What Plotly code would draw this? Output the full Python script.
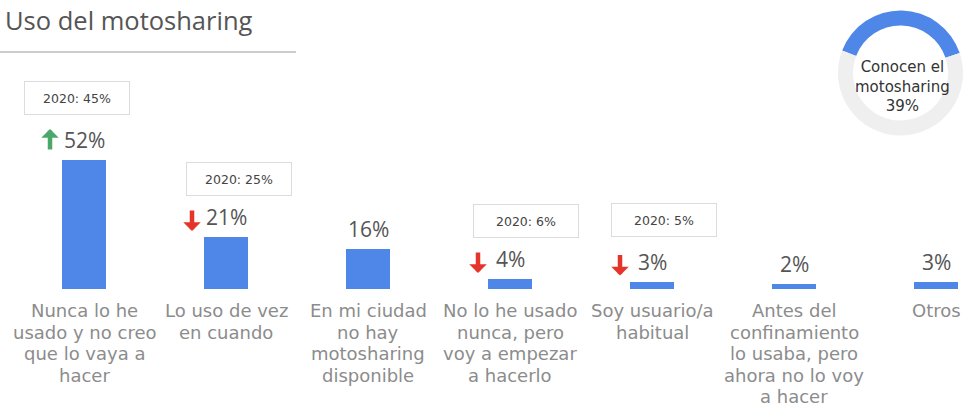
import plotly.graph_objects as go

# ---- data -------------------------------------------------------------
categories = [
    "Nunca lo he<br>usado y no creo<br>que lo vaya a<br>hacer",
    "Lo uso de vez<br>en cuando",
    "En mi ciudad<br>no hay<br>motosharing<br>disponible",
    "No lo he usado<br>nunca, pero<br>voy a empezar<br>a hacerlo",
    "Soy usuario/a<br>habitual",
    "Antes del<br>confinamiento<br>lo usaba, pero<br>ahora no lo voy<br>a hacer",
    "Otros",
]
values_2021 = [52, 21, 16, 4, 3, 2, 3]
values_2020 = [45, 25, None, 6, 5, None, None]
trend = ["up", "down", None, "down", "down", None, None]

awareness_label = "Conocen el<br>motosharing"
awareness_pct = 39

# ---- styling ----------------------------------------------------------
FONT = "Open Sans"
WIDE_FONT = "DejaVu Sans"
BAR_COLOR = "#4F87E8"
RING_BG = "#EFEFEF"
TEXT_DARK = "#555555"
TEXT_CAT = "#8C8C8C"
UP_COLOR = "#4CA868"
DOWN_COLOR = "#E5352B"

W, H = 963, 408
M_B = 119
PLOT_H = H - M_B
PX_PER_UNIT_X = 142.0
FIRST_X_PX = 84.0
PX_PER_PCT = 2.48
CAT_FIRST_LINE = 21.5   # px below the baseline, first label line centre
CAT_LINE_STEP = 21.5    # px between label lines

# small nudges for the 2020 comparison boxes
BOX_XSHIFT = {0: -7, 1: 13, 3: 16, 4: 12}
BOX_YSHIFT = {0: 62, 1: 58, 3: 58, 4: 62}

x_pos = list(range(len(categories)))

fig = go.Figure()

fig.add_trace(go.Bar(
    x=x_pos,
    y=values_2021,
    width=0.31,
    marker=dict(color=BAR_COLOR, line=dict(width=0)),
    hoverinfo="skip",
    showlegend=False,
))

# awareness ring
ring_x0 = 838 / W
ring_d = W - 838
ring_cy = 73
fig.add_trace(go.Pie(
    values=[awareness_pct, 100 - awareness_pct],
    hole=0.76,
    sort=False,
    direction="clockwise",
    rotation=-69,
    marker=dict(colors=[BAR_COLOR, RING_BG], line=dict(width=0)),
    textinfo="none",
    hoverinfo="skip",
    showlegend=False,
    domain=dict(
        x=[ring_x0, 1],
        y=[1 - (ring_cy + ring_d / 2) / PLOT_H, 1 - (ring_cy - ring_d / 2) / PLOT_H],
    ),
))

annotations = []

# category labels, one annotation per line for tight line spacing
for i, cat in enumerate(categories):
    for k, line in enumerate(cat.split("<br>")):
        annotations.append(dict(
            x=i, y=0, xref="x", yref="y",
            text=line, showarrow=False,
            yshift=-(CAT_FIRST_LINE + k * CAT_LINE_STEP),
            xanchor="center", yanchor="middle",
            font=dict(family=WIDE_FONT, size=18, color=TEXT_CAT),
        ))

# value labels above bars
for i, v in enumerate(values_2021):
    annotations.append(dict(
        x=i, y=v, xref="x", yref="y",
        text=f"{v}%", showarrow=False,
        yshift=20, yanchor="middle", xanchor="center",
        font=dict(family=FONT, size=21, color=TEXT_DARK),
    ))

# 2020 comparison boxes
for i, prev in enumerate(values_2020):
    if prev is None:
        continue
    annotations.append(dict(
        x=i, y=values_2021[i], xref="x", yref="y",
        text=f"2020: {prev}%", showarrow=False,
        xshift=BOX_XSHIFT.get(i, 10), yshift=BOX_YSHIFT.get(i, 60),
        xanchor="center", yanchor="middle",
        width=104, height=32,
        bordercolor="#DCDCDC", borderwidth=1, borderpad=0,
        bgcolor="white",
        font=dict(family=WIDE_FONT, size=12.5, color="#444444"),
    ))

# trend arrows
for i, t in enumerate(trend):
    if t is None:
        continue
    v = values_2021[i]
    xs = -32 - (2 if v >= 10 else 0)
    if t == "up":
        annotations.append(dict(
            x=i, y=v, xref="x", yref="y", text="",
            showarrow=True, axref="pixel", ayref="pixel", ax=0, ay=22,
            xshift=xs, yshift=31,
            arrowhead=1, arrowsize=0.65, arrowwidth=4.5, arrowcolor=UP_COLOR,
        ))
    else:
        annotations.append(dict(
            x=i, y=v, xref="x", yref="y", text="",
            showarrow=True, axref="pixel", ayref="pixel", ax=0, ay=-22,
            xshift=xs, yshift=6,
            arrowhead=1, arrowsize=0.65, arrowwidth=4.5, arrowcolor=DOWN_COLOR,
        ))

# title
annotations.append(dict(
    x=3 / W, y=1 - 20 / PLOT_H, xref="paper", yref="paper",
    text="Uso del motosharing", showarrow=False,
    xanchor="left", yanchor="middle",
    font=dict(family=FONT, size=25.5, color=TEXT_DARK),
))

# ring caption
annotations.append(dict(
    x=902 / W, y=1 - 87 / PLOT_H, xref="paper", yref="paper",
    text=f"{awareness_label}<br>{awareness_pct}%", showarrow=False,
    xanchor="center", yanchor="middle",
    font=dict(family=WIDE_FONT, size=15, color="#333333"),
))

x_lo = -FIRST_X_PX / PX_PER_UNIT_X
x_hi = (W - FIRST_X_PX) / PX_PER_UNIT_X

fig.update_layout(
    width=W, height=H,
    margin=dict(l=0, r=0, t=0, b=M_B, pad=0),
    paper_bgcolor="white",
    plot_bgcolor="white",
    bargap=0,
    annotations=annotations,
    shapes=[dict(
        type="line", xref="paper", yref="paper",
        x0=0, x1=296 / W, y0=1 - 52 / PLOT_H, y1=1 - 52 / PLOT_H,
        line=dict(color="#9A9A9A", width=1),
    )],
    xaxis=dict(
        range=[x_lo, x_hi],
        showticklabels=False,
        showgrid=False, zeroline=False, showline=False,
        ticks="",
        fixedrange=True,
    ),
    yaxis=dict(
        range=[0, PLOT_H / PX_PER_PCT],
        visible=False,
        fixedrange=True,
    ),
)

fig.write_html("out.html", config={"displayModeBar": False})
